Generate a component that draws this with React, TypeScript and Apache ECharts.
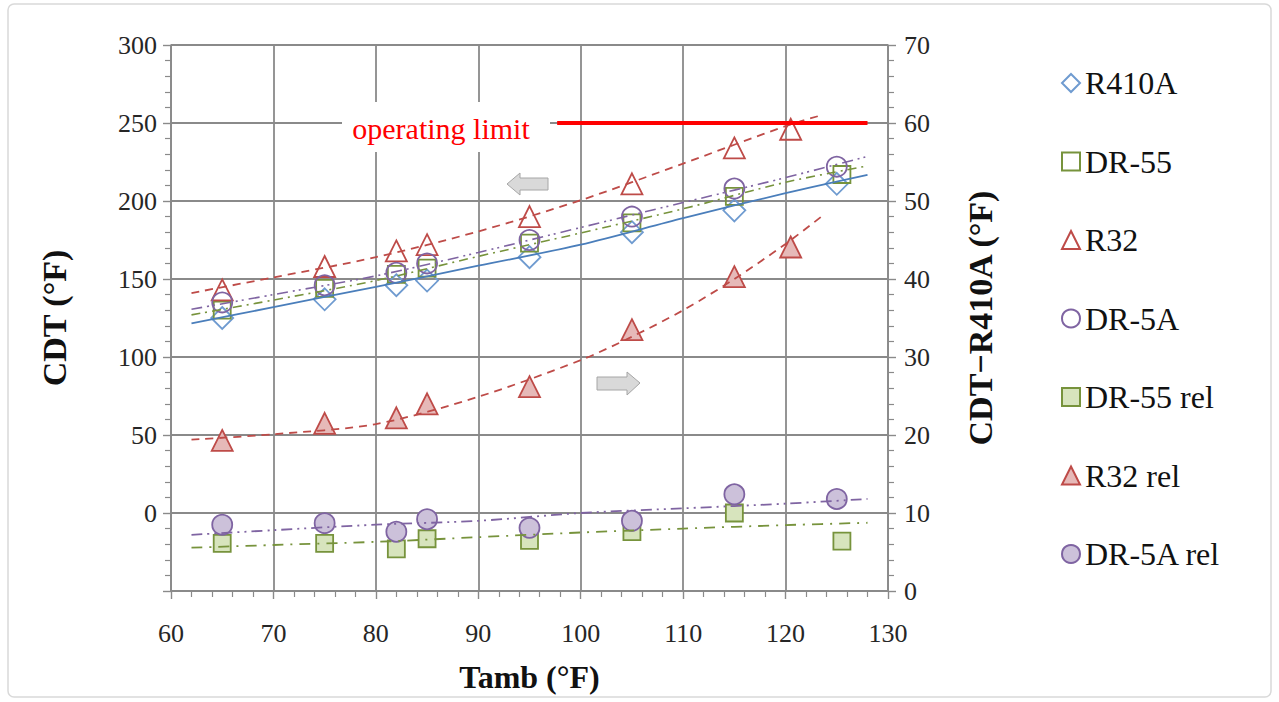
import React, { useEffect, useRef } from 'react';
import * as echarts from 'echarts';

const FONT = '"Liberation Serif", "Times New Roman", serif';

// Ambient temperature (°F) for each measured point
const tamb = [65, 75, 82, 85, 95, 105, 115, 125];
const tambR32 = [65, 75, 82, 85, 95, 105, 115, 120.5];
const tambDR55 = [65, 75, 82, 85, 95, 105, 115, 125.5];

// Compressor discharge temperature (left axis)
const cdtR410A = [125, 137, 146, 149, 164, 180, 194, 211];
const cdtDR55 = [130, 144, 153, 157, 173, 186, 203, 217];
const cdtR32 = [143, 158, 168, 172, 190, 211, 234, 246];
const cdtDR5A = [135, 146, 154, 160, 175, 190, 208, 222];

// CDT relative to R410A (right axis)
const relDR55 = [6.1, 6.1, 5.4, 6.7, 6.5, 7.6, 10.0, 6.4];
const relR32 = [19.3, 21.5, 22.2, 24.0, 26.2, 33.5, 40.3, 44.1];
const relDR5A = [8.5, 8.7, 7.6, 9.2, 8.1, 9.0, 12.4, 11.8];

// Trendlines
const trendX = [62, 70, 80, 90, 100, 110, 120, 128];
const trendR410A = [121.5, 132, 145, 158.5, 172, 189, 205, 216.7];
const trendDR55 = [127, 136.5, 149, 164.5, 179.5, 195, 212, 222.5];
const trendDR5A = [130.6, 140, 152, 167, 183, 199, 215, 228.6];
const trendR32X = [62, 70, 80, 90, 100, 110, 120, 123.5];
const trendR32 = [141, 151, 164, 180.5, 200.5, 224, 248, 255];
const trendRelR32X = [62, 70, 80, 90, 100, 105, 110, 115, 120, 123.5];
const trendRelR32 = [19.4, 20.1, 21.4, 24.9, 29.6, 32.6, 36.0, 40.0, 44.5, 48.0];
const trendRelDR55 = [5.55, 5.9, 6.3, 6.9, 7.5, 8.0, 8.45, 8.75];
const trendRelDR5A = [7.2, 7.8, 8.5, 9.0, 10.0, 10.6, 11.2, 11.8];

// Operating limit
const limitValue = 250;
const limitFrom = 97.7;
const limitTo = 128;

const legendNames = ['R410A', 'DR-55', 'R32', 'DR-5A', 'DR-55 rel', 'R32 rel', 'DR-5A rel'];

const BLUE = '#4a7ebb';
const BLUE_M = '#6f9bd0';
const GREEN = '#77933c';
const RED = '#be4b48';
const PURPLE = '#7f64a2';
const GRID = '#8a8a8a';
const NONE = 'rgba(255,255,255,0)';

const pairs = (xs: number[], ys: number[]) => xs.map((x, i) => [x, ys[i]]);

function scatter(name: string, xs: number[], ys: number[], yAxisIndex: number, symbol: string, size: number, fill: string, border: string) {
  return {
    name,
    type: 'scatter',
    yAxisIndex,
    data: pairs(xs, ys),
    symbol,
    symbolSize: size,
    itemStyle: { color: fill, borderColor: border, borderWidth: 1.8, opacity: 1 },
    z: 2,
    silent: true,
  };
}

function trend(name: string, xs: number[], ys: number[], yAxisIndex: number, color: string, type: any, width = 1.6) {
  return {
    name,
    type: 'line',
    yAxisIndex,
    data: pairs(xs, ys),
    showSymbol: false,
    symbol: 'none',
    smooth: 0.3,
    lineStyle: { color, width, type },
    z: 3,
    silent: true,
  };
}

const tickLabel = { fontFamily: FONT, fontSize: 26, color: '#262626' };

const option: any = {
  animation: false,
  backgroundColor: '#ffffff',
  grid: { left: 171, right: 391, top: 45, bottom: 111, containLabel: false },
  legend: {
    data: legendNames.map((n) => ({ name: n })),
    orient: 'vertical',
    left: 1056,
    top: 62,
    itemWidth: 18,
    itemHeight: 18,
    itemGap: 46.5,
    selectedMode: false,
    textStyle: { fontFamily: FONT, fontSize: 32, lineHeight: 32, color: '#111' },
  },
  xAxis: {
    type: 'value',
    min: 60,
    max: 130,
    interval: 10,
    axisLine: { show: true, onZero: false, lineStyle: { color: GRID, width: 1.6 } },
    axisTick: { show: true, length: 8, lineStyle: { color: GRID, width: 1.4 } },
    minorTick: { show: true, splitNumber: 5, length: 6, lineStyle: { color: GRID, width: 1.2 } },
    splitLine: { show: true, lineStyle: { color: GRID, width: 1.8 } },
    axisLabel: { ...tickLabel, margin: 29 },
    name: 'Tamb (°F)',
    nameLocation: 'middle',
    nameGap: 70,
    nameTextStyle: { fontFamily: FONT, fontSize: 32, fontWeight: 'bold', color: '#111' },
  },
  yAxis: [
    {
      type: 'value',
      position: 'left',
      min: -50,
      max: 300,
      interval: 50,
      axisLine: { show: true, onZero: false, lineStyle: { color: GRID, width: 1.6 } },
      axisTick: { show: true, length: 8, lineStyle: { color: GRID, width: 1.4 } },
      minorTick: { show: true, splitNumber: 5, length: 6, lineStyle: { color: GRID, width: 1.2 } },
      splitLine: { show: true, lineStyle: { color: GRID, width: 1.8 } },
      axisLabel: { ...tickLabel, margin: 14, formatter: (v: number) => (v < 0 ? '' : String(v)) },
      name: 'CDT (°F)',
      nameLocation: 'middle',
      nameRotate: 90,
      nameGap: 100,
      nameTextStyle: { fontFamily: FONT, fontSize: 34, fontWeight: 'bold', color: '#111' },
    },
    {
      type: 'value',
      position: 'right',
      min: 0,
      max: 70,
      interval: 10,
      axisLine: { show: true, onZero: false, lineStyle: { color: GRID, width: 1.6 } },
      axisTick: { show: true, length: 8, lineStyle: { color: GRID, width: 1.4 } },
      minorTick: { show: true, splitNumber: 5, length: 6, lineStyle: { color: GRID, width: 1.2 } },
      splitLine: { show: false },
      axisLabel: { ...tickLabel, margin: 16 },
      name: 'CDT−R410A (°F)',
      nameLocation: 'middle',
      nameRotate: 90,
      nameGap: 75,
      nameTextStyle: { fontFamily: FONT, fontSize: 34, fontWeight: 'bold', color: '#111' },
    },
  ],
  graphic: [
    {
      type: 'rect',
      shape: { x: 8, y: 4, width: 1263, height: 693, r: 6 },
      style: { fill: 'none', stroke: '#d9d9d9', lineWidth: 1.5 },
      z: 0,
      silent: true,
    },
    {
      type: 'rect',
      shape: { x: 342, y: 102, width: 208, height: 50 },
      style: { fill: '#ffffff' },
      z: 1,
      silent: true,
    },
    {
      type: 'text',
      x: 441,
      y: 128,
      style: {
        text: 'operating limit',
        fill: '#ff0000',
        font: `30px ${FONT}`,
        textAlign: 'center',
        textVerticalAlign: 'middle',
        align: 'center',
        verticalAlign: 'middle',
      },
      z: 5,
      silent: true,
    },
    {
      type: 'polygon',
      shape: { points: [[507, 184], [520, 173], [520, 178], [548, 178], [548, 190], [520, 190], [520, 195]] },
      style: { fill: '#d9d9d9', stroke: '#a6a6a6', lineWidth: 1 },
      z: 5,
      silent: true,
    },
    {
      type: 'polygon',
      shape: { points: [[640, 383], [627, 372], [627, 377], [597, 377], [597, 390], [627, 390], [627, 395]] },
      style: { fill: '#d9d9d9', stroke: '#a6a6a6', lineWidth: 1 },
      z: 5,
      silent: true,
    },
  ],
  series: [
    scatter('R410A', tamb, cdtR410A, 0, 'diamond', 22, NONE, BLUE_M),
    scatter('DR-55', tambDR55, cdtDR55, 0, 'rect', 17, NONE, GREEN),
    scatter('R32', tambR32, cdtR32, 0, 'triangle', 21, NONE, RED),
    scatter('DR-5A', tamb, cdtDR5A, 0, 'circle', 20, NONE, PURPLE),
    scatter('DR-55 rel', tambDR55, relDR55, 1, 'rect', 17, '#d7e4bd', GREEN),
    scatter('R32 rel', tambR32, relR32, 1, 'triangle', 21, '#e6b9b8', RED),
    scatter('DR-5A rel', tamb, relDR5A, 1, 'circle', 20, '#ccc1da', PURPLE),
    trend('R410A trend', trendX, trendR410A, 0, BLUE, 'solid', 1.8),
    trend('DR-55 trend', trendX, trendDR55, 0, GREEN, [9, 5, 2, 5], 1.6),
    trend('DR-5A trend', trendX, trendDR5A, 0, PURPLE, [11, 5, 2, 4, 2, 5], 1.6),
    trend('R32 trend', trendR32X, trendR32, 0, RED, [8, 6], 1.8),
    trend('R32 rel trend', trendRelR32X, trendRelR32, 1, RED, [8, 6], 1.8),
    trend('DR-55 rel trend', trendX, trendRelDR55, 1, GREEN, [11, 7, 2, 7], 1.8),
    trend('DR-5A rel trend', trendX, trendRelDR5A, 1, PURPLE, [11, 5, 2, 5, 2, 5], 1.8),
    {
      name: 'operating limit',
      type: 'line',
      yAxisIndex: 0,
      data: [[limitFrom, limitValue], [limitTo, limitValue]],
      showSymbol: false,
      symbol: 'none',
      lineStyle: { color: '#ff0000', width: 4 },
      z: 4,
      silent: true,
    },
  ],
};

export default function App() {
  const ref = useRef<HTMLDivElement>(null);
  useEffect(() => {
    const chart = echarts.init(ref.current!, null, { renderer: 'svg' });
    chart.setOption(option);
    return () => chart.dispose();
  }, []);
  return (
    <div
      ref={ref}
      style={{ position: 'fixed', left: 0, top: 0, width: 1279, height: 702, background: '#fff' }}
    />
  );
}
